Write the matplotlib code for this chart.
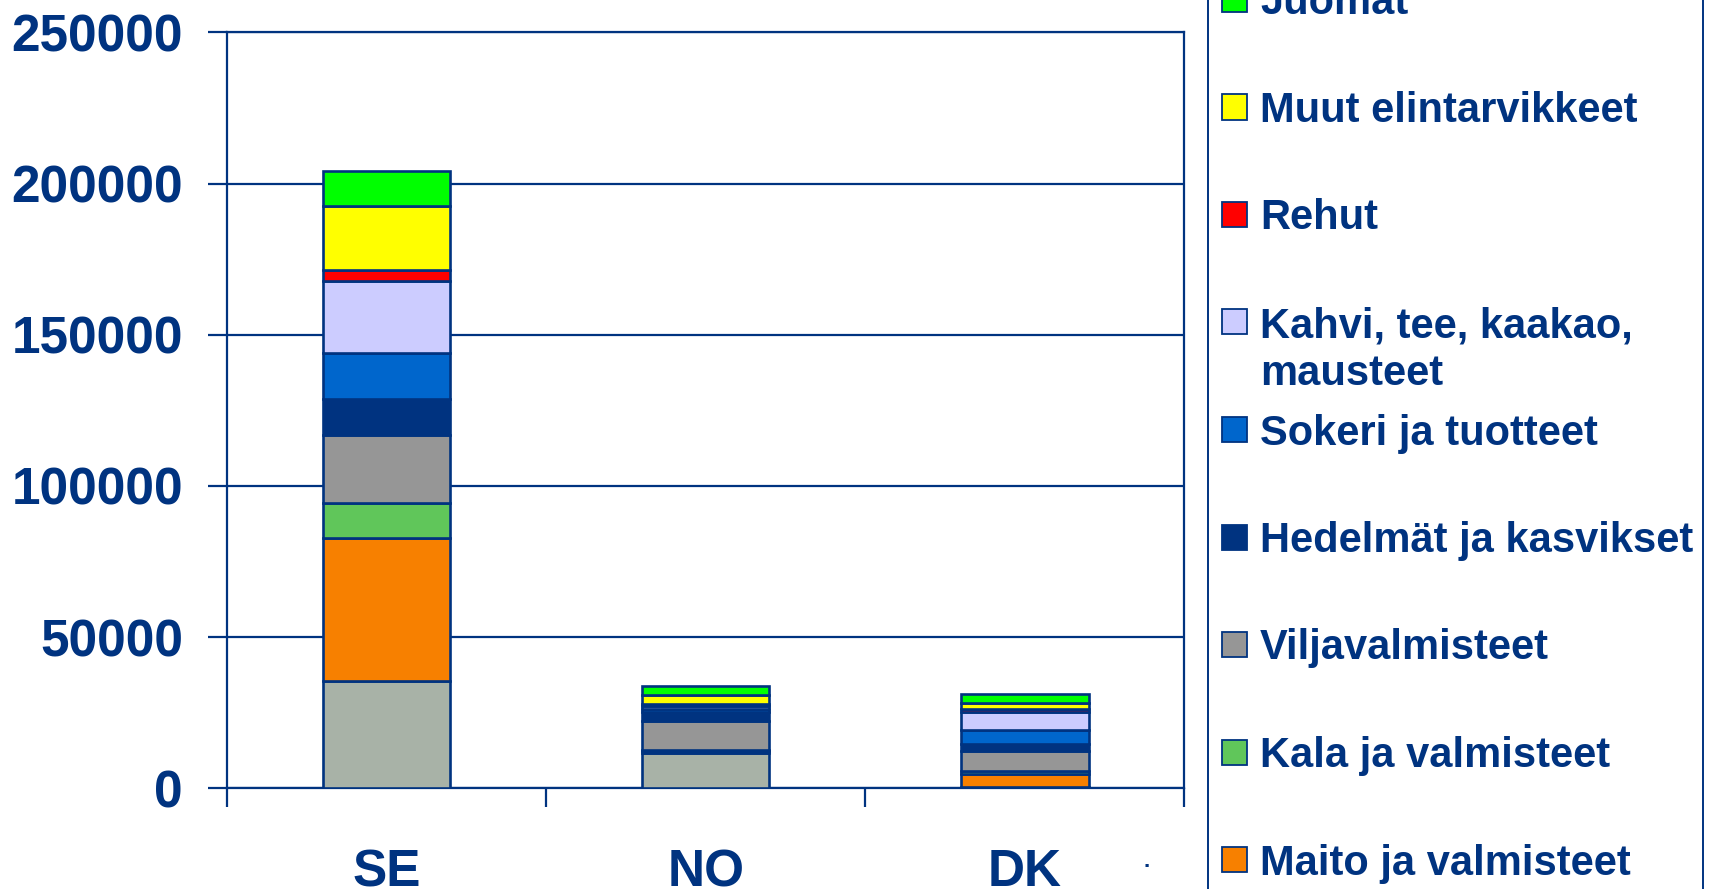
import matplotlib
matplotlib.use("Agg")
import matplotlib.pyplot as plt
from matplotlib.patches import Rectangle
import numpy as np

plt.rcParams["font.family"] = ["Liberation Sans", "DejaVu Sans"]
plt.rcParams["font.weight"] = "bold"

NAVY = "#003380"

categories = ["SE", "NO", "DK"]

# stacked from bottom to top
liha      = [35600, 11700, 400]
maito     = [47100, 500, 4300]
kala      = [11800, 500, 1100]
vilja     = [22300, 9500, 6600]
hedelmat  = [12100, 3000, 2200]
sokeri    = [15000, 1000, 4700]
kahvi     = [24000, 1000, 5900]
rehut     = [3500, 800, 1000]
muut      = [21200, 2700, 1900]
juomat    = [11600, 3200, 3100]

series = [
    (None, liha, "#A8B2A7"),
    ("Maito ja valmisteet", maito, "#F78000"),
    ("Kala ja valmisteet", kala, "#60C65A"),
    ("Viljavalmisteet", vilja, "#969696"),
    ("Hedelmät ja kasvikset", hedelmat, "#003380"),
    ("Sokeri ja tuotteet", sokeri, "#0066CC"),
    ("Kahvi, tee, kaakao,\nmausteet", kahvi, "#CCCCFF"),
    ("Rehut", rehut, "#FF0000"),
    ("Muut elintarvikkeet", muut, "#FFFF00"),
    ("Juomat", juomat, "#00FF00"),
]

W, H = 1710, 889
fig = plt.figure(figsize=(W / 100, H / 100), dpi=100)
ax = fig.add_axes([227 / W, 100.7 / H, (1184.3 - 227) / W, (856.7 - 100.7) / H])

x = np.arange(len(categories))
bottom = np.zeros(len(categories))
for label, vals, col in series:
    ax.bar(x, vals, width=0.4, bottom=bottom, color=col, edgecolor=NAVY,
           linewidth=1.9, zorder=3)
    bottom += np.array(vals)

ax.set_xlim(-0.5, 2.5)
ax.set_ylim(0, 250000)
ax.set_yticks(np.arange(0, 250001, 50000))
ax.set_yticklabels([str(v) for v in range(0, 250001, 50000)])
ax.yaxis.grid(True, color=NAVY, linewidth=1.6, zorder=0)
ax.set_axisbelow(True)

ax.set_xticks([-0.5, 0.5, 1.5, 2.5])
ax.set_xticklabels([])
ax.set_xticks(x, minor=True)
ax.set_xticklabels(categories, minor=True)

for sp in ax.spines.values():
    sp.set_color(NAVY)
    sp.set_linewidth(1.6)

ax.tick_params(axis="y", direction="out", length=13.7, width=1.6, color=NAVY,
               labelsize=37, labelcolor=NAVY, pad=18)
ax.tick_params(axis="x", which="major", direction="out", length=13.7, width=1.6,
               color=NAVY)
ax.tick_params(axis="x", which="minor", length=0, labelsize=37,
               labelcolor=NAVY, pad=43)

# legend box, cut by the top and bottom of the picture
fig.patches.append(Rectangle((1208.3 / W, -0.05), (1703 - 1208.3) / W, 1.1,
                             transform=fig.transFigure, facecolor="none",
                             edgecolor=NAVY, linewidth=1.4))

legend_items = [(lab, col) for lab, _, col in series[::-1] if lab]
step = 107.5
for i, (lab, col) in enumerate(legend_items):
    yc = -0.5 + i * step
    fig.patches.append(Rectangle((1221.5 / W, 1 - (yc + 12.5) / H), 25 / W, 25 / H,
                                 transform=fig.transFigure, facecolor=col,
                                 edgecolor=NAVY, linewidth=1.3))
    for j, line in enumerate(lab.split("\n")):
        fig.text(1260 / W, 1 - (yc + 15 + j * 48) / H, line, va="baseline",
                 ha="left", fontsize=30, color=NAVY, fontweight="bold")

fig.text(1146.7 / W, 1 - 867 / H, ".", fontsize=16, color=NAVY, ha="center",
         va="baseline")

fig.savefig("out.png", dpi=100)
